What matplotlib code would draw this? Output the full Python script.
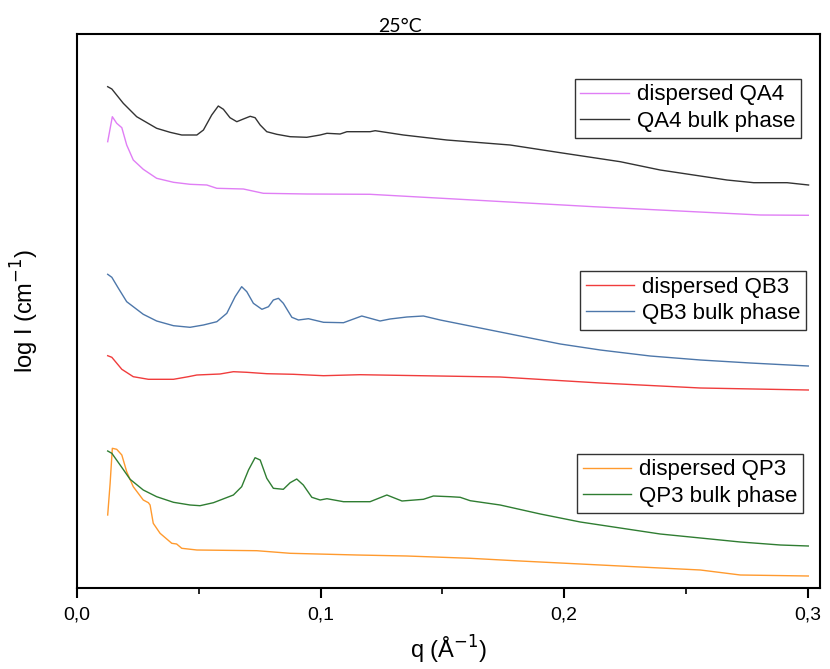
import matplotlib
matplotlib.use('Agg')
import matplotlib.pyplot as plt
from matplotlib.ticker import MultipleLocator, FuncFormatter

# q in 1/Angstrom, intensity as stacked log I (arbitrary offsets)
q_qa4_bulk = [0.0126, 0.0143, 0.0190, 0.0245, 0.0327, 0.0382, 0.0430, 0.0492, 0.0519, 0.0553,
              0.0580, 0.0601, 0.0628, 0.0656, 0.0683, 0.0711, 0.0731, 0.0752, 0.0779, 0.0820,
              0.0875, 0.0943, 0.0998, 0.1026, 0.1080, 0.1108, 0.1203, 0.1224, 0.1340, 0.1518,
              0.1778, 0.1984, 0.2230, 0.2394, 0.2531, 0.2668, 0.2778, 0.2915, 0.3003]
i_qa4_bulk = [5.013, 4.99, 4.847, 4.713, 4.597, 4.557, 4.53, 4.53, 4.58, 4.73,
              4.82, 4.787, 4.703, 4.663, 4.69, 4.717, 4.703, 4.63, 4.563, 4.537,
              4.513, 4.507, 4.53, 4.547, 4.54, 4.563, 4.563, 4.573, 4.53, 4.48,
              4.43, 4.353, 4.263, 4.18, 4.13, 4.08, 4.053, 4.053, 4.03]

q_qa4_disp = [0.0126, 0.0145, 0.0163, 0.0184, 0.0204, 0.0231, 0.0272, 0.0327, 0.0396, 0.0464,
              0.0533, 0.0574, 0.0683, 0.0765, 0.0943, 0.1203, 0.1573, 0.2120, 0.2531, 0.2805, 0.3002]
i_qa4_disp = [4.463, 4.713, 4.647, 4.603, 4.43, 4.28, 4.187, 4.097, 4.057, 4.037,
              4.03, 3.997, 3.99, 3.947, 3.94, 3.937, 3.887, 3.813, 3.763, 3.73, 3.727]

q_qb3_bulk = [0.0126, 0.0143, 0.0170, 0.0204, 0.0231, 0.0272, 0.0327, 0.0396, 0.0464, 0.0519,
              0.0574, 0.0615, 0.0649, 0.0676, 0.0697, 0.0724, 0.0759, 0.0786, 0.0806, 0.0827,
              0.0847, 0.0882, 0.0909, 0.0950, 0.1012, 0.1094, 0.1169, 0.1244, 0.1285, 0.1354,
              0.1422, 0.1491, 0.1655, 0.1819, 0.1984, 0.2148, 0.2353, 0.2559, 0.2764, 0.3002]
i_qb3_bulk = [3.137, 3.107, 2.997, 2.863, 2.813, 2.737, 2.67, 2.623, 2.607, 2.63,
              2.663, 2.747, 2.913, 3.013, 2.963, 2.847, 2.787, 2.813, 2.88, 2.897,
              2.847, 2.707, 2.68, 2.693, 2.657, 2.653, 2.72, 2.67, 2.69, 2.71,
              2.72, 2.68, 2.60, 2.52, 2.44, 2.38, 2.32, 2.28, 2.25, 2.22]

q_qb3_disp = [0.0126, 0.0143, 0.0184, 0.0231, 0.0293, 0.0396, 0.0457, 0.0492, 0.0587, 0.0642,
              0.0697, 0.0779, 0.0888, 0.1012, 0.1162, 0.1409, 0.1737, 0.2148, 0.2559, 0.3002]
i_qb3_disp = [2.323, 2.307, 2.187, 2.113, 2.087, 2.087, 2.113, 2.13, 2.14, 2.163,
              2.157, 2.143, 2.137, 2.123, 2.133, 2.123, 2.11, 2.05, 2.00, 1.98]

q_qp3_bulk = [0.0126, 0.0143, 0.0177, 0.0218, 0.0272, 0.0327, 0.0396, 0.0464, 0.0505, 0.0560,
              0.0642, 0.0676, 0.0704, 0.0731, 0.0752, 0.0779, 0.0806, 0.0847, 0.0875, 0.0902,
              0.0929, 0.0964, 0.0998, 0.1026, 0.1094, 0.1203, 0.1272, 0.1334, 0.1422, 0.1463,
              0.1532, 0.1573, 0.1614, 0.1737, 0.1902, 0.2066, 0.2230, 0.2394, 0.2559, 0.2723,
              0.2887, 0.3002]
i_qp3_bulk = [1.37, 1.347, 1.23, 1.087, 0.98, 0.913, 0.857, 0.83, 0.823, 0.853,
              0.93, 1.013, 1.18, 1.303, 1.28, 1.097, 0.997, 0.987, 1.053, 1.09,
              1.03, 0.907, 0.88, 0.893, 0.863, 0.863, 0.93, 0.87, 0.887, 0.92,
              0.913, 0.907, 0.873, 0.83, 0.74, 0.66, 0.60, 0.54, 0.50, 0.46,
              0.43, 0.42]

q_qp3_disp = [0.0126, 0.0136, 0.0145, 0.0163, 0.0184, 0.0204, 0.0231, 0.0272, 0.0293, 0.0300,
              0.0313, 0.0341, 0.0389, 0.0409, 0.0430, 0.0492, 0.0738, 0.0875, 0.1149, 0.1354,
              0.1614, 0.1819, 0.2066, 0.2312, 0.2559, 0.2723, 0.3002]
i_qp3_disp = [0.73, 1.047, 1.397, 1.387, 1.33, 1.163, 1.013, 0.88, 0.853, 0.83,
              0.647, 0.547, 0.447, 0.44, 0.397, 0.38, 0.373, 0.347, 0.33, 0.32,
              0.297, 0.27, 0.24, 0.21, 0.18, 0.13, 0.12]

plt.rcParams['font.family'] = ['Liberation Sans', 'DejaVu Sans']

fig = plt.figure(figsize=(8.3, 6.69), dpi=100)
ax = fig.add_axes([77/830, 81/669, 743/830, 554/669])

l_qa4d, = ax.plot(q_qa4_disp, i_qa4_disp, color='#e07ef5', lw=1.0)
l_qa4b, = ax.plot(q_qa4_bulk, i_qa4_bulk, color='#333333', lw=1.0)
l_qb3d, = ax.plot(q_qb3_disp, i_qb3_disp, color='#f03c3c', lw=1.0)
l_qb3b, = ax.plot(q_qb3_bulk, i_qb3_bulk, color='#4d77aa', lw=1.0)
l_qp3d, = ax.plot(q_qp3_disp, i_qp3_disp, color='#ff9a2e', lw=1.0)
l_qp3b, = ax.plot(q_qp3_bulk, i_qp3_bulk, color='#2f7d32', lw=1.0)

ax.set_xlim(0, 0.305)
ax.set_ylim(0, 5.54)
ax.set_yticks([])
ax.xaxis.set_major_locator(MultipleLocator(0.1))
ax.xaxis.set_minor_locator(MultipleLocator(0.05))
ax.xaxis.set_major_formatter(FuncFormatter(lambda v, p: f'{v:.1f}'.replace('.', ',')))
ax.tick_params(axis='x', which='major', direction='out', length=7, width=1.5, labelsize=14, pad=6)
ax.tick_params(axis='x', which='minor', direction='out', length=4, width=1.2)
for s in ax.spines.values():
    s.set_linewidth(1.5)

ax.set_xlabel('q (Å$^{-1}$)', fontsize=17, labelpad=8)
ax.set_ylabel('log I (cm$^{-1}$)', fontsize=17, labelpad=26)
fig.text(400/830, 1 - 27/669, '25°C', ha='center', va='center', fontsize=14, family=['Lato', 'DejaVu Sans'])

leg_kw = dict(loc='upper left', fontsize=16, frameon=True, fancybox=False, edgecolor='#333333',
              labelspacing=0.25, borderpad=0.25, handlelength=2.2, handletextpad=0.35,
              borderaxespad=0, framealpha=1)
leg1 = ax.legend([l_qa4d, l_qa4b], ['dispersed QA4', 'QA4 bulk phase'],
                 bbox_to_anchor=(0.670, 0.919), **leg_kw)
ax.add_artist(leg1)
leg2 = ax.legend([l_qb3d, l_qb3b], ['dispersed QB3', 'QB3 bulk phase'],
                 bbox_to_anchor=(0.677, 0.572), **leg_kw)
ax.add_artist(leg2)
leg3 = ax.legend([l_qp3d, l_qp3b], ['dispersed QP3', 'QP3 bulk phase'],
                 bbox_to_anchor=(0.673, 0.242), **leg_kw)
for lg in (leg1, leg2, leg3):
    lg.get_frame().set_linewidth(1.0)

fig.savefig('out.png', dpi=100)
